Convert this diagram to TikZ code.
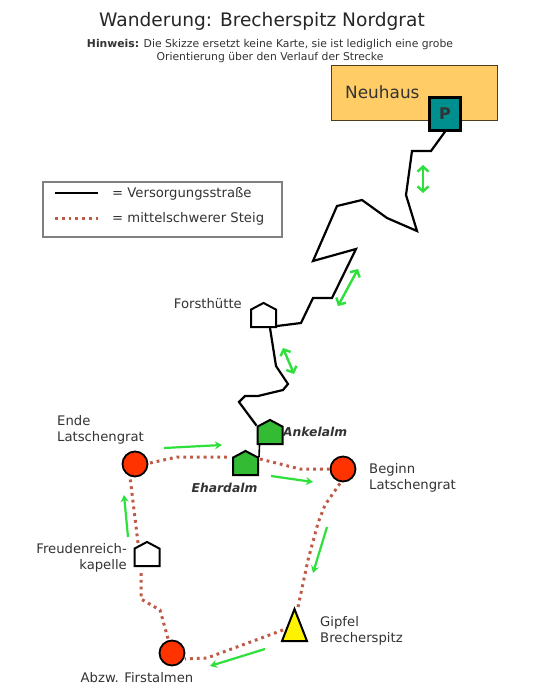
\documentclass[tikz,border=0pt]{standalone}
\usepackage{fontspec}
\setmainfont{DejaVu Sans}
\usetikzlibrary{arrows.meta,shapes.geometric,shapes.symbols}
\definecolor{txt}{HTML}{333333}
\definecolor{trailc}{HTML}{BE5A46}
\definecolor{arrowc}{HTML}{2EE03C}
\definecolor{towncol}{HTML}{FFCC66}
\definecolor{parkcol}{HTML}{008F8F}
\definecolor{almcol}{HTML}{33BB33}
\definecolor{stopcol}{HTML}{FF3300}
\tikzset{
  road/.style={line width=2.2pt,black,line join=miter},
  trail/.style={line width=3pt,trailc,dash pattern=on 2.8pt off 4pt,line join=round},
  oneway/.style={line width=2.2pt,arrowc,-{Stealth[length=7pt,width=8pt]}},
  twoway/.style={line width=2.4pt,arrowc,{Straight Barb[length=5pt,width=11pt]}-{Straight Barb[length=5pt,width=11pt]}},
  hut/.style={signal,signal to=north,signal pointer angle=124,draw=black,line width=2pt,inner sep=0pt,minimum width=25pt,minimum height=17.4pt,anchor=south},
  stop/.style={circle,draw=black,line width=1.8pt,fill=stopcol,minimum size=25pt,inner sep=0pt},
  label text/.style={text=txt,font=\fontsize{13.2pt}{15.5pt}\selectfont,align=left,inner sep=0pt},
  alm text/.style={text=txt,font=\fontsize{12.3pt}{14pt}\selectfont\bfseries\itshape,inner sep=0pt},
}
\begin{document}
\begin{tikzpicture}[x=1pt,y=-1pt]
\useasboundingbox (0,0) rectangle (540,700);
\fill[white] (0,0) rectangle (540,700);
% heading
\node[text=black!85,font=\fontsize{18.6pt}{20pt}\selectfont,inner sep=0pt] (title) at (262,21) {Wanderung: Brecherspitz Nordgrat};
\node[text=txt,font=\fontsize{10.8pt}{13pt}\selectfont,align=center,inner sep=0pt] (note) at (270,51) {\textbf{Hinweis:} Die Skizze ersetzt keine Karte, sie ist lediglich eine grobe\\Orientierung über den Verlauf der Strecke};
% town
\node[draw=black!70!towncol,line width=1pt,fill=towncol,minimum width=166pt,minimum height=55pt,inner sep=0pt] (town) at (414,93.5) {};
\node[text=black!80,font=\fontsize{16.9pt}{18pt}\selectfont,anchor=west,inner sep=0pt] (townlabel) at (345,92) {Neuhaus};
\node[draw=black,line width=2.4pt,fill=parkcol,minimum width=31pt,minimum height=33pt,inner sep=0pt,font=\fontsize{16pt}{18pt}\selectfont\bfseries,text=black!80] (park) at (445,114) {P};
% legend
\node[draw=black!50,line width=1.2pt,fill=white,minimum width=239pt,minimum height=55pt,inner sep=0pt] (legend) at (162.5,209.5) {};
\coordinate (l1a) at (55,193); \coordinate (l1b) at (98,193);
\coordinate (l2a) at (55,218.5); \coordinate (l2b) at (98,218.5);
\draw[road,line width=2.4pt] (l1a) -- (l1b);
\draw[trail] (l2a) -- (l2b);
\node[label text,anchor=west] (l1t) at (112,194) {= Versorgungsstraße};
\node[label text,anchor=west] (l2t) at (112,218.5) {= mittelschwerer Steig};
% huts and stops
\node[hut,fill=white] (forst) at (263.5,328) {};
\node[hut,fill=almcol] (ankel) at (270,445) {};
\node[hut,fill=almcol] (ehard) at (245.5,476) {};
\node[hut,fill=white] (kapelle) at (147,567) {};
\node[stop] (ende) at (135,464) {};
\node[stop] (beginn) at (343,469) {};
\node[stop] (abzw) at (172,653) {};
\node[isosceles triangle,isosceles triangle apex angle=42,isosceles triangle stretches,shape border rotate=90,draw=black,line width=2pt,fill=yellow,minimum width=25pt,minimum height=32pt,inner sep=0pt] (gipfel) at (294.5,632.5) {};
% road
\draw[road] (park.south) -- (431,151) -- (412,151) -- (406,195) -- (417,231) -- (387,218) -- (362,200) -- (337,206) -- (313,261) -- (356,249) -- (332,298) -- (313,298) -- (301,323) -- (forst.south east);
\draw[road] (270,328) -- (276,366) -- (288,384) -- (283,390) -- (258,396) -- (245,396) -- (239,402) -- (ankel.north west);
\draw[road,line width=1.6pt] (ankel.south west) ++(3,0) -- (ehard.north east);
% trail
\draw[trail] (ende) ++(15,-1) -- (177,457) -- (228,457);
\draw[trail] (260,459) -- (300,469) -- (beginn.west);
\draw[trail] (beginn.south) ++(-3,1) -- (325,505) -- (318,523) -- (308,560) -- (298,607);
\draw[trail] (283,630) -- (207,658) -- (185,659);
\draw[trail] (abzw.north) ++(-4,-1) -- (160,610) -- (141,599) -- (141,572);
\draw[trail] (138,543) -- (130,477);
% direction arrows
\coordinate (a1a) at (423,165); \coordinate (a1b) at (423,193);
\coordinate (a2a) at (358,269); \coordinate (a2b) at (338,306);
\coordinate (a3a) at (283,348); \coordinate (a3b) at (294,374);
\draw[twoway] (a1a) -- (a1b);
\draw[twoway] (a2a) -- (a2b);
\draw[twoway] (a3a) -- (a3b);
\coordinate (b1a) at (164,448); \coordinate (b1b) at (222,445);
\coordinate (b2a) at (271,476); \coordinate (b2b) at (313,482);
\coordinate (b3a) at (327,527); \coordinate (b3b) at (313,573);
\coordinate (b4a) at (265,649); \coordinate (b4b) at (210,666);
\coordinate (b5a) at (128,537); \coordinate (b5b) at (124,495);
\draw[oneway] (b1a) -- (b1b);
\draw[oneway] (b2a) -- (b2b);
\draw[oneway] (b3a) -- (b3b);
\draw[oneway] (b4a) -- (b4b);
\draw[oneway] (b5a) -- (b5b);
% labels
\node[label text,anchor=east] (forstt) at (242,304) {Forsthütte};
\node[label text,anchor=west] (endet) at (57,430) {Ende\\Latschengrat};
\node[label text,anchor=west] (beginnt) at (369,478) {Beginn\\Latschengrat};
\node[label text,anchor=east,align=right] (kapt) at (127,558) {Freudenreich-\\kapelle};
\node[label text,anchor=west] (gipfelt) at (320,631) {Gipfel\\Brecherspitz};
\node[label text,anchor=center] (abzwt) at (137,677.5) {Abzw. Firstalmen};
\node[alm text,anchor=west] (ankelt) at (283,432) {Ankelalm};
\node[alm text,anchor=center] (ehardt) at (224.5,488) {Ehardalm};
\end{tikzpicture}
\end{document}
